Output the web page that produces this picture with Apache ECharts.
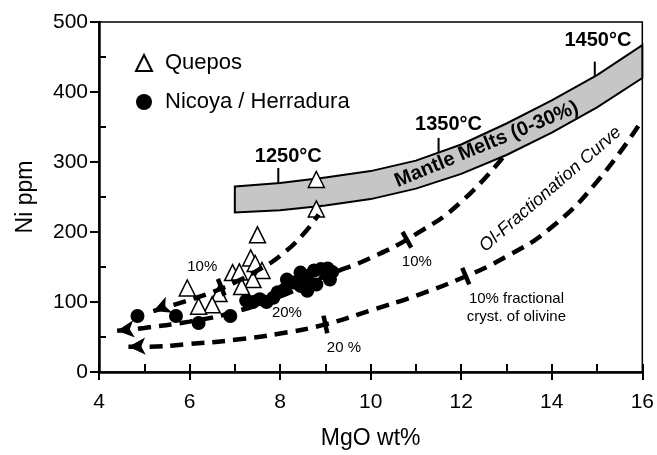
<!DOCTYPE html>
<html>
<head>
<meta charset="utf-8">
<title>Ni vs MgO</title>
<script src="https://cdn.jsdelivr.net/npm/echarts@6.0.0/dist/echarts.min.js"></script>
<style>
  html, body { margin: 0; padding: 0; background: #fff; }
  #chart { width: 657px; height: 455px; }
</style>
</head>
<body>
<div id="chart"></div>
<script>
// samples [MgO wt%, Ni ppm]
const quepos = [
  [8.8, 275], [8.8, 233], [7.5, 196], [7.35, 163], [7.45, 155], [7.6, 145],
  [6.95, 142], [7.1, 143], [7.4, 132], [7.15, 122], [6.65, 112], [6.5, 96],
  [6.2, 94], [5.95, 120]
];
const nicoya = [
  [4.85, 80], [5.7, 80], [6.2, 70], [6.9, 80], [7.25, 102], [7.4, 100],
  [7.55, 104], [7.7, 100], [7.85, 106], [7.95, 114], [8.1, 118], [8.15, 132],
  [8.3, 128], [8.45, 123], [8.45, 142], [8.6, 137], [8.6, 116], [8.75, 145],
  [8.8, 125], [8.9, 147], [9.05, 148], [9.1, 132], [9.15, 143]
];

// mantle melts band (0-30%), edges read at these MgO values
const meltMgO = [7, 8, 9, 10, 11, 12, 13, 14, 15, 16];
const meltTop = [265, 270, 278, 287, 302, 325, 355, 388, 424, 467];
const meltBottom = [228, 231, 238, 247, 262, 283, 310, 342, 378, 420];

// temperature ticks on the band
const tempMarks = [[7.96, 270], [11.5, 313], [14.95, 422]];

// olivine fractionation curves, arrow end first
const curve1250 = [[5.2, 87], [5.5, 93], [6, 103], [6.5, 114], [7, 128], [7.5, 145], [8, 166], [8.5, 196], [8.85, 225]];
const curve1350 = [[4.4, 59], [5, 63], [6, 72], [7, 86], [8, 108], [9, 137], [10, 163], [11, 197], [12, 243], [13, 313]];
const curve1450 = [[4.65, 36], [5, 36], [6, 40], [7, 46], [8, 55], [9, 68], [10, 88], [11, 109], [12, 134], [13, 165], [14, 207], [15, 272], [16, 360]];

// % crystallised marks on the curves
const fracMarks = [[6.7, 121], [10.8, 189], [9.0, 68], [12.1, 137]];

// notes [text, MgO, Ni]
const notes = [
  ['1250°C', 8.18, 308],
  ['1350°C', 11.72, 353],
  ['1450°C', 15.02, 474],
  ['Mantle Melts (0-30%)', 12.56, 325],
  ['Ol-Fractionation Curve', 13.97, 261],
  ['10%', 6.28, 150],
  ['10%', 11.02, 157],
  ['20%', 8.15, 85],
  ['20 %', 9.41, 34],
  ['10% fractional\ncryst. of olivine', 13.22, 91]
];

const font = "'Liberation Sans', Arial, Helvetica, sans-serif";
const markAngles = [22, 29, 12, 23];
const arrowAngles = [112, 96, 92];
const noteStyle = {
  '1250°C': { fontSize: 20, fontWeight: 'bold' },
  '1350°C': { fontSize: 20, fontWeight: 'bold' },
  '1450°C': { fontSize: 20, fontWeight: 'bold' },
  'Mantle Melts (0-30%)': { fontSize: 20, fontWeight: 'bold', rotate: 22.5 },
  'Ol-Fractionation Curve': { fontSize: 18, fontStyle: 'italic', rotate: 41 }
};

function curveData(pts, rot) {
  return pts.map(function (p, i) {
    if (i > 0) return p;
    return { value: p, symbol: 'arrow', symbolSize: [13, 17], symbolRotate: rot, itemStyle: { color: '#000', opacity: 1 } };
  });
}

function curveSeries(pts, rot) {
  return {
    type: 'line',
    data: curveData(pts, rot),
    smooth: true,
    symbol: 'circle',
    symbolSize: 0,
    lineStyle: { color: '#000', width: 4.5, type: [13, 8], cap: 'butt', opacity: 1 },
    z: 4,
    silent: true
  };
}

const chart = echarts.init(document.getElementById('chart'));

chart.setOption({
  animation: false,
  backgroundColor: '#fff',
  textStyle: { fontFamily: font, color: '#000' },
  grid: {
    left: 99, right: 13, top: 22, bottom: 82,
    show: true, borderColor: '#000', borderWidth: 1.5, backgroundColor: 'transparent'
  },
  legend: {
    orient: 'vertical',
    left: 130,
    top: 47,
    itemWidth: 16,
    itemHeight: 16,
    itemGap: 17,
    textStyle: { fontSize: 22, color: '#000', fontFamily: font, padding: [0, 0, 0, 8] },
    data: ['Quepos', 'Nicoya / Herradura']
  },
  xAxis: [{
    type: 'value', min: 4, max: 16, interval: 2, position: 'bottom',
    axisLine: { show: true, onZero: false, lineStyle: { color: '#000', width: 2.5 } },
    axisTick: { show: true, length: 8, lineStyle: { color: '#000', width: 2 } },
    axisLabel: { fontSize: 21, color: '#000', margin: 20, fontFamily: font },
    splitLine: { show: false },
    name: 'MgO wt%', nameLocation: 'middle', nameGap: 55,
    nameTextStyle: { fontSize: 23, color: '#000', fontFamily: font }
  }, {
    type: 'value', min: 4, max: 16, interval: 2, position: 'bottom',
    axisLine: { show: false, onZero: false },
    axisTick: { show: true, inside: true, length: 8, lineStyle: { color: '#000', width: 2 } },
    minorTick: { show: true, splitNumber: 2, length: 8, lineStyle: { color: '#000', width: 2 } },
    axisLabel: { show: false },
    splitLine: { show: false }
  }],
  yAxis: [{
    type: 'value', min: 0, max: 500, interval: 100,
    axisLine: { show: true, onZero: false, lineStyle: { color: '#000', width: 2.5 } },
    axisTick: { show: true, length: 9, lineStyle: { color: '#000', width: 2 } },
    axisLabel: { fontSize: 21, color: '#000', margin: 11, fontFamily: font },
    splitLine: { show: false },
    name: 'Ni ppm', nameLocation: 'middle', nameGap: 62,
    nameTextStyle: { fontSize: 23, color: '#000', fontFamily: font }
  }, {
    type: 'value', min: 0, max: 500, interval: 100, position: 'left',
    axisLine: { show: false, onZero: false },
    axisTick: { show: false, inside: true },
    minorTick: { show: true, splitNumber: 2, length: 7, lineStyle: { color: '#000', width: 2 } },
    axisLabel: { show: false },
    splitLine: { show: false }
  }],
  series: [
    {
      // shaded band
      type: 'custom',
      data: [[meltMgO[0], meltTop[0]]],
      silent: true,
      z: 1,
      renderItem: function (params, api) {
        const top = meltMgO.map(function (x, i) { return api.coord([x, meltTop[i]]); });
        const bot = meltMgO.map(function (x, i) { return api.coord([x, meltBottom[i]]); }).reverse();
        return {
          type: 'polygon',
          shape: { points: top.concat(bot) },
          style: { fill: '#c6c6c6', stroke: '#000', lineWidth: 2 }
        };
      }
    },
    {
      type: 'custom',
      data: tempMarks,
      silent: true,
      z: 2,
      renderItem: function (params, api) {
        const p = api.coord([api.value(0), api.value(1)]);
        return {
          type: 'line',
          shape: { x1: p[0], y1: p[1], x2: p[0], y2: p[1] - 15 },
          style: { stroke: '#000', lineWidth: 2 }
        };
      }
    },
    {
      name: 'Nicoya / Herradura',
      type: 'scatter',
      data: nicoya,
      symbol: 'circle',
      symbolSize: 14,
      itemStyle: { color: '#000', opacity: 1 },
      z: 3
    },
    {
      name: 'Quepos',
      type: 'scatter',
      data: quepos,
      symbol: 'triangle',
      symbolSize: 16,
      itemStyle: { color: '#fff', borderColor: '#000', borderWidth: 1.5, opacity: 1 },
      z: 3
    },
    curveSeries(curve1250, arrowAngles[0]),
    curveSeries(curve1350, arrowAngles[1]),
    curveSeries(curve1450, arrowAngles[2]),
    {
      type: 'scatter',
      data: fracMarks,
      symbol: 'rect',
      symbolSize: [4.5, 18],
      symbolRotate: function (val, params) { return markAngles[params.dataIndex]; },
      itemStyle: { color: '#000', opacity: 1 },
      silent: true,
      z: 5
    },
    {
      type: 'scatter',
      silent: true,
      z: 6,
      symbolSize: 0,
      itemStyle: { opacity: 1 },
      data: notes.map(function (n) {
        const s = noteStyle[n[0]] || { fontSize: 15 };
        return {
          name: n[0],
          value: [n[1], n[2]],
          label: {
            show: true,
            position: 'inside',
            formatter: '{b}',
            color: '#000',
            fontFamily: font,
            fontSize: s.fontSize,
            fontWeight: s.fontWeight || 'normal',
            fontStyle: s.fontStyle || 'normal',
            rotate: s.rotate || 0,
            lineHeight: 18,
            align: 'center',
            verticalAlign: 'middle'
          }
        };
      })
    }
  ]
});
</script>
</body>
</html>
